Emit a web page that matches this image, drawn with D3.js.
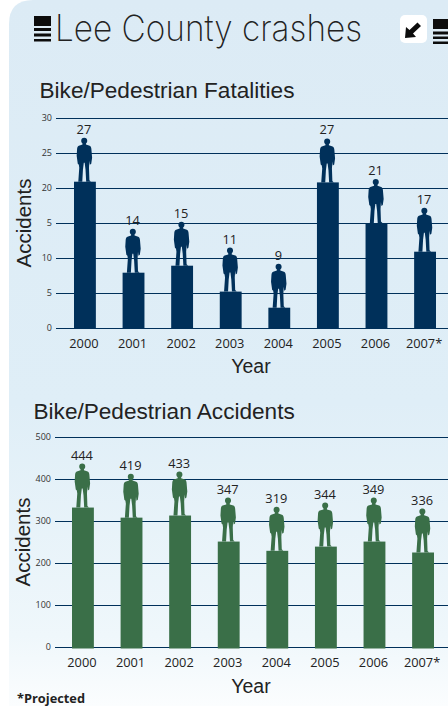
<!DOCTYPE html>
<html>
<head>
<meta charset="utf-8">
<script src="https://d3js.org/d3.v7.min.js"></script>
<style>
  html, body { margin: 0; padding: 0; background: #fff; }
  svg { display: block; }
  .sans { font-family: "Liberation Sans", Arial, sans-serif; fill: #222; }
  .num { font-family: "Open Sans", sans-serif; fill: #222; }
  .axis .domain { display: none; }
  .axis text { font-family: "Open Sans", sans-serif; }
</style>
</head>
<body>
<script>
let w = 448;
let h = 706;

let years = ["2000", "2001", "2002", "2003", "2004", "2005", "2006", "2007*"];

// top chart
let fatalities = [27, 14, 15, 11, 9, 27, 21, 17];
let fatalBars = [20.9, 7.9, 8.9, 5.2, 2.9, 20.8, 15, 10.9];
let fatalTicks = [0, 5, 10, 15, 20, 25, 30];
let fatalTickLabels = ["0", "5", "10", "5", "20", "25", "30"]; // the original really prints 5 for 15

// bottom chart
let accidents = [444, 419, 433, 347, 319, 344, 349, 336];
let accidentBars = [332, 308, 313, 251, 229, 239, 251, 225];
let accidentTicks = [0, 100, 200, 300, 400, 500];
let accidentTickLabels = ["0", "100", "200", "300", "400", "500"];

// person standing on the bar, 44 high with the head at 0
let figureH = 44;
let figure = "M0,0 C1.8,0 2.8,1.3 2.8,3 C2.8,4.4 2.2,5.2 1.6,5.8 L1.6,6.8 L5,8 C6.2,8.5 6.4,9.5 6.6,11 " +
  "L7.3,20 L6.5,26 L5.2,27 L4.8,23 L4.4,30 L4.8,42.5 L6.2,44 L1.8,44 L1.2,32 L0.4,25 L-0.4,25 L-1.2,32 " +
  "L-1.8,44 L-5.5,44 L-4.6,30 L-5,27 L-6,26 L-7,18 L-6.6,11 C-6.4,9.5 -6.2,8.5 -5,8 L-1.6,6.8 L-1.6,5.8 " +
  "C-2.2,5.2 -2.8,4.4 -2.8,3 C-2.8,1.3 -1.8,0 0,0 Z";

let svg = d3.select("body")
  .append("svg")
  .attr("width", w)
  .attr("height", h);

// Panel
let grad = svg.append("defs").append("linearGradient")
  .attr("id", "panel")
  .attr("x1", 0).attr("y1", 0)
  .attr("x2", 0).attr("y2", 1);
grad.append("stop").attr("offset", "0").attr("stop-color", "#dcebf5");
grad.append("stop").attr("offset", "0.57").attr("stop-color", "#dfeef7");
grad.append("stop").attr("offset", "0.9").attr("stop-color", "#eff7fb");
grad.append("stop").attr("offset", "1").attr("stop-color", "#fbfdfe");

svg.append("path")
  .attr("d", "M9,706 L9,24 Q9,0 33,0 L448,0 L448,706 Z")
  .attr("fill", "url(#panel)");

// Header
svg.append("text")
  .attr("x", 55)
  .attr("y", 41)
  .attr("font-family", "Inter, 'Liberation Sans', sans-serif")
  .attr("font-weight", 200)
  .attr("font-size", 36)
  .attr("textLength", 307)
  .attr("lengthAdjust", "spacingAndGlyphs")
  .attr("fill", "#222")
  .text("Lee County crashes");

function stripes(x, y, width, hs) {
  let g = svg.append("g").attr("transform", "translate(" + x + "," + y + ")");
  g.selectAll("rect")
    .data(hs)
    .enter()
    .append("rect")
    .attr("x", 0)
    .attr("width", width)
    .attr("y", (d) => { return d[0]; })
    .attr("height", (d) => { return d[1]; })
    .attr("fill", "#0c0c0c");
}
stripes(34, 16, 17, [[0, 10], [12, 3], [17.5, 3], [23, 2.5]]);
stripes(433, 19, 15, [[0, 10], [12.5, 3], [17.5, 2.5], [22.5, 2.5]]);

svg.append("rect")
  .attr("x", 400).attr("y", 15)
  .attr("width", 27).attr("height", 28)
  .attr("rx", 5)
  .attr("fill", "#fff");
svg.append("path")
  .attr("d", "M405,38 L406,27 L409.5,30 L417.5,22.5 L421,26 L413,33.5 L416,37 Z")
  .attr("fill", "#0c0c0c");

function drawChart(c) {
  let x = d3.scaleBand()
    .domain(years)
    .range(c.xRange)
    .paddingInner(0.55)
    .paddingOuter(0);

  let y = d3.scaleLinear()
    .domain(c.yDomain)
    .range(c.yRange);

  let g = svg.append("g");

  let yAxis = d3.axisLeft(y)
    .tickValues(c.ticks)
    .tickFormat((d, i) => { return c.tickLabels[i]; })
    .tickSize(-(w - c.axisX))
    .tickPadding(4);

  let ya = g.append("g")
    .attr("class", "axis")
    .attr("transform", "translate(" + c.axisX + ",0)")
    .call(yAxis);
  ya.selectAll("line").attr("stroke", "#00305a").attr("stroke-width", 1);
  ya.selectAll("text").attr("font-size", 9).attr("fill", "#333");

  let xAxis = d3.axisBottom(x).tickSize(0);
  let xa = g.append("g")
    .attr("class", "axis")
    .attr("transform", "translate(0," + c.yRange[0] + ")")
    .call(xAxis);
  xa.selectAll("text")
    .attr("y", 10.5)
    .attr("dx", -1)
    .attr("font-size", 12.8)
    .attr("fill", "#222");

  // Bars
  g.selectAll("rect.bar")
    .data(c.bars)
    .enter()
    .append("rect")
    .attr("class", "bar")
    .attr("x", (d, i) => { return x(years[i]); })
    .attr("width", x.bandwidth())
    .attr("y", (d) => { return y(d); })
    .attr("height", (d) => { return y(0) - y(d) + c.barDrop; })
    .attr("fill", c.color);

  // People on the bars
  g.selectAll("path.person")
    .data(c.bars)
    .enter()
    .append("path")
    .attr("class", "person")
    .attr("d", figure)
    .attr("transform", (d, i) => {
      return "translate(" + (x(years[i]) + x.bandwidth() / 2 - 0.7) + "," + (y(d) - figureH) + ") scale(1.08,1)";
    })
    .attr("fill", c.color);

  // Values over the heads
  g.selectAll("text.val")
    .data(c.values)
    .enter()
    .append("text")
    .attr("class", "val num")
    .attr("x", (d, i) => { return x(years[i]) + x.bandwidth() / 2 - 1; })
    .attr("y", (d, i) => { return y(c.bars[i]) - figureH - 4; })
    .attr("text-anchor", "middle")
    .attr("font-size", 12.8)
    .text((d) => { return d; });

  // Titles
  g.append("text")
    .attr("class", "sans")
    .attr("x", c.titleX)
    .attr("y", c.titleY)
    .attr("font-size", 22.6)
    .text(c.title);

  g.append("text")
    .attr("class", "sans")
    .attr("transform", "translate(" + c.yLabelX + "," + (y.range()[0] + y.range()[1]) / 2 + ") rotate(-90)")
    .attr("text-anchor", "middle")
    .attr("font-size", 20.5)
    .text("Accidents");

  g.append("text")
    .attr("class", "sans")
    .attr("x", 251)
    .attr("y", c.xLabelY)
    .attr("text-anchor", "middle")
    .attr("font-size", 19.5)
    .text("Year");
}

drawChart({
  title: "Bike/Pedestrian Fatalities",
  titleX: 39.5,
  titleY: 98,
  values: fatalities,
  bars: fatalBars,
  ticks: fatalTicks,
  tickLabels: fatalTickLabels,
  yDomain: [0, 30],
  yRange: [328, 118],
  xRange: [74, 436],
  axisX: 56,
  yLabelX: 31,
  xLabelY: 373,
  barDrop: 0.5,
  color: "#00305a"
});

drawChart({
  title: "Bike/Pedestrian Accidents",
  titleX: 33.5,
  titleY: 418.5,
  values: accidents,
  bars: accidentBars,
  ticks: accidentTicks,
  tickLabels: accidentTickLabels,
  yDomain: [0, 500],
  yRange: [647, 437],
  xRange: [72, 434],
  axisX: 55,
  yLabelX: 30,
  xLabelY: 692.5,
  barDrop: 1.5,
  color: "#3a6f48"
});

svg.append("text")
  .attr("x", 17)
  .attr("y", 702.5)
  .attr("font-family", "'Open Sans', sans-serif")
  .attr("font-weight", 700)
  .attr("font-size", 12.8)
  .attr("fill", "#222")
  .text("*Projected");
</script>
</body>
</html>
